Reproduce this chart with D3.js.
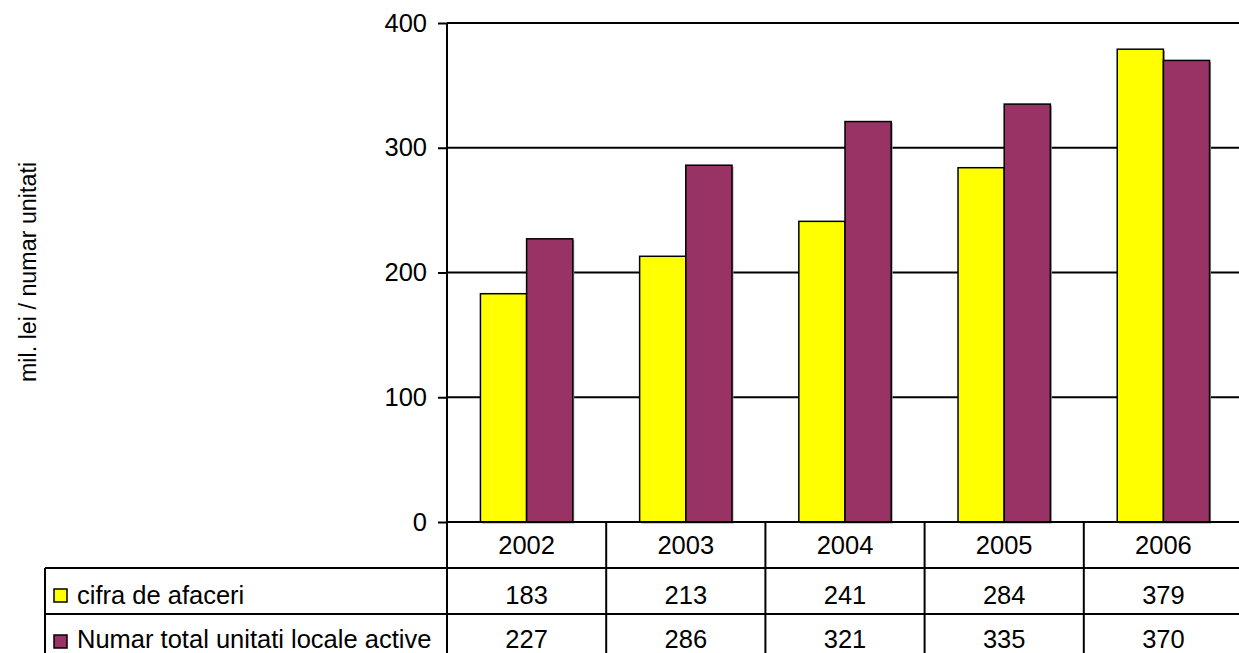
<!DOCTYPE html>
<html><head><meta charset="utf-8">
<script src="https://cdn.jsdelivr.net/npm/d3@7"></script>
<style>html,body{margin:0;padding:0;background:#fff;overflow:hidden}svg{display:block;font-family:"Liberation Sans",Arial,sans-serif}</style>
</head><body>
<script>
const years = ["2002","2003","2004","2005","2006"];
const seriesNames = ["cifra de afaceri","Numar total unitati locale active"];
const cifraAfaceri = [183,213,241,284,379];
const unitatiActive = [227,286,321,335,370];
const seriesColors = ["#FFFF00","#993366"];
const yTicks = [0,100,200,300,400];
const yLabel = "mil. lei / numar unitati";

(function(){
const W=1239,H=653;
const svg=d3.select("body").append("svg").attr("width",W).attr("height",H);
const plotLeft=447, plotTop=23, zeroY=522, bandW=159.2;
const x=d3.scaleBand().domain(years).range([plotLeft,plotLeft+bandW*years.length]).padding(0);
const y=d3.scaleLinear().domain([0,400]).range([zeroY,plotTop]);
const series=[cifraAfaceri,unitatiActive];
const barW=x.bandwidth()*0.29;
const FS=25.5;

// gridlines
svg.append("g").selectAll("line").data(yTicks.filter(d=>d>0)).join("line")
 .attr("x1",plotLeft).attr("x2",W+10).attr("y1",d=>y(d)).attr("y2",d=>y(d))
 .attr("stroke","#000").attr("stroke-width",2);

// bars
series.forEach((vals,si)=>{
  const g=svg.append("g");
  g.selectAll("rect.sh").data(vals).join("rect").attr("class","sh")
   .attr("x",(d,i)=>x(years[i])+x.bandwidth()/2-barW+si*barW+1.5)
   .attr("y",d=>y(d)+1.5).attr("width",barW).attr("height",d=>zeroY-y(d))
   .attr("fill","#9a9a9a");
  g.selectAll("rect.b").data(vals).join("rect").attr("class","b")
   .attr("x",(d,i)=>x(years[i])+x.bandwidth()/2-barW+si*barW)
   .attr("y",d=>y(d)).attr("width",barW).attr("height",d=>zeroY-y(d))
   .attr("fill",seriesColors[si]).attr("stroke","#000").attr("stroke-width",1.5);
});

// y axis
const yAxis=d3.axisLeft(y).tickValues(yTicks).tickSize(9).tickPadding(11);
const ga=svg.append("g").attr("transform",`translate(${plotLeft},0)`).call(yAxis);
ga.select(".domain").attr("stroke","#000").attr("stroke-width",2).attr("d",`M0,${plotTop}V${zeroY}`);
ga.selectAll(".tick line").attr("stroke","#000").attr("stroke-width",2);
ga.selectAll(".tick text").attr("font-size",FS).attr("fill","#000").attr("font-family","Liberation Sans, Arial, sans-serif");

// y label
svg.append("text").attr("transform","translate(36,272) rotate(-90)").attr("text-anchor","middle")
 .attr("font-size",23.3).attr("fill","#000").text(yLabel);

// data table
const rowH=46, tableLeft=45;
const rows=[zeroY, zeroY+rowH, zeroY+2*rowH, zeroY+3*rowH];
const tg=svg.append("g").attr("stroke","#000").attr("stroke-width",2);
tg.append("line").attr("x1",plotLeft).attr("x2",W+10).attr("y1",rows[0]).attr("y2",rows[0]);
tg.append("line").attr("x1",tableLeft).attr("x2",W+10).attr("y1",rows[1]).attr("y2",rows[1]);
tg.append("line").attr("x1",tableLeft).attr("x2",W+10).attr("y1",rows[2]).attr("y2",rows[2]);
tg.append("line").attr("x1",tableLeft).attr("x2",tableLeft).attr("y1",rows[1]).attr("y2",H+10);
tg.selectAll("line.v").data(years).join("line").attr("class","v")
 .attr("x1",d=>x(d)).attr("x2",d=>x(d)).attr("y1",rows[0]).attr("y2",H+10);

// year labels
svg.append("g").selectAll("text").data(years).join("text")
 .attr("x",d=>x(d)+x.bandwidth()/2).attr("y",rows[0]+32).attr("text-anchor","middle")
 .attr("font-size",FS).attr("fill","#000").text(d=>d);
// values + legend keys
series.forEach((vals,si)=>{
  const base = si===0 ? rows[1]+36 : rows[2]+34;
  svg.append("g").selectAll("text").data(vals).join("text")
   .attr("x",(d,i)=>x(years[i])+x.bandwidth()/2).attr("y",base).attr("text-anchor","middle")
   .attr("font-size",FS).attr("fill","#000").text(d=>d);
  svg.append("rect").attr("x",54).attr("y",rows[1+si]+21).attr("width",13).attr("height",13)
   .attr("fill",seriesColors[si]).attr("stroke","#000").attr("stroke-width",1.5);
  svg.append("text").attr("x",77).attr("y",base).attr("font-size",FS).attr("fill","#000").text(seriesNames[si]);
});
})();
</script>
</body></html>
